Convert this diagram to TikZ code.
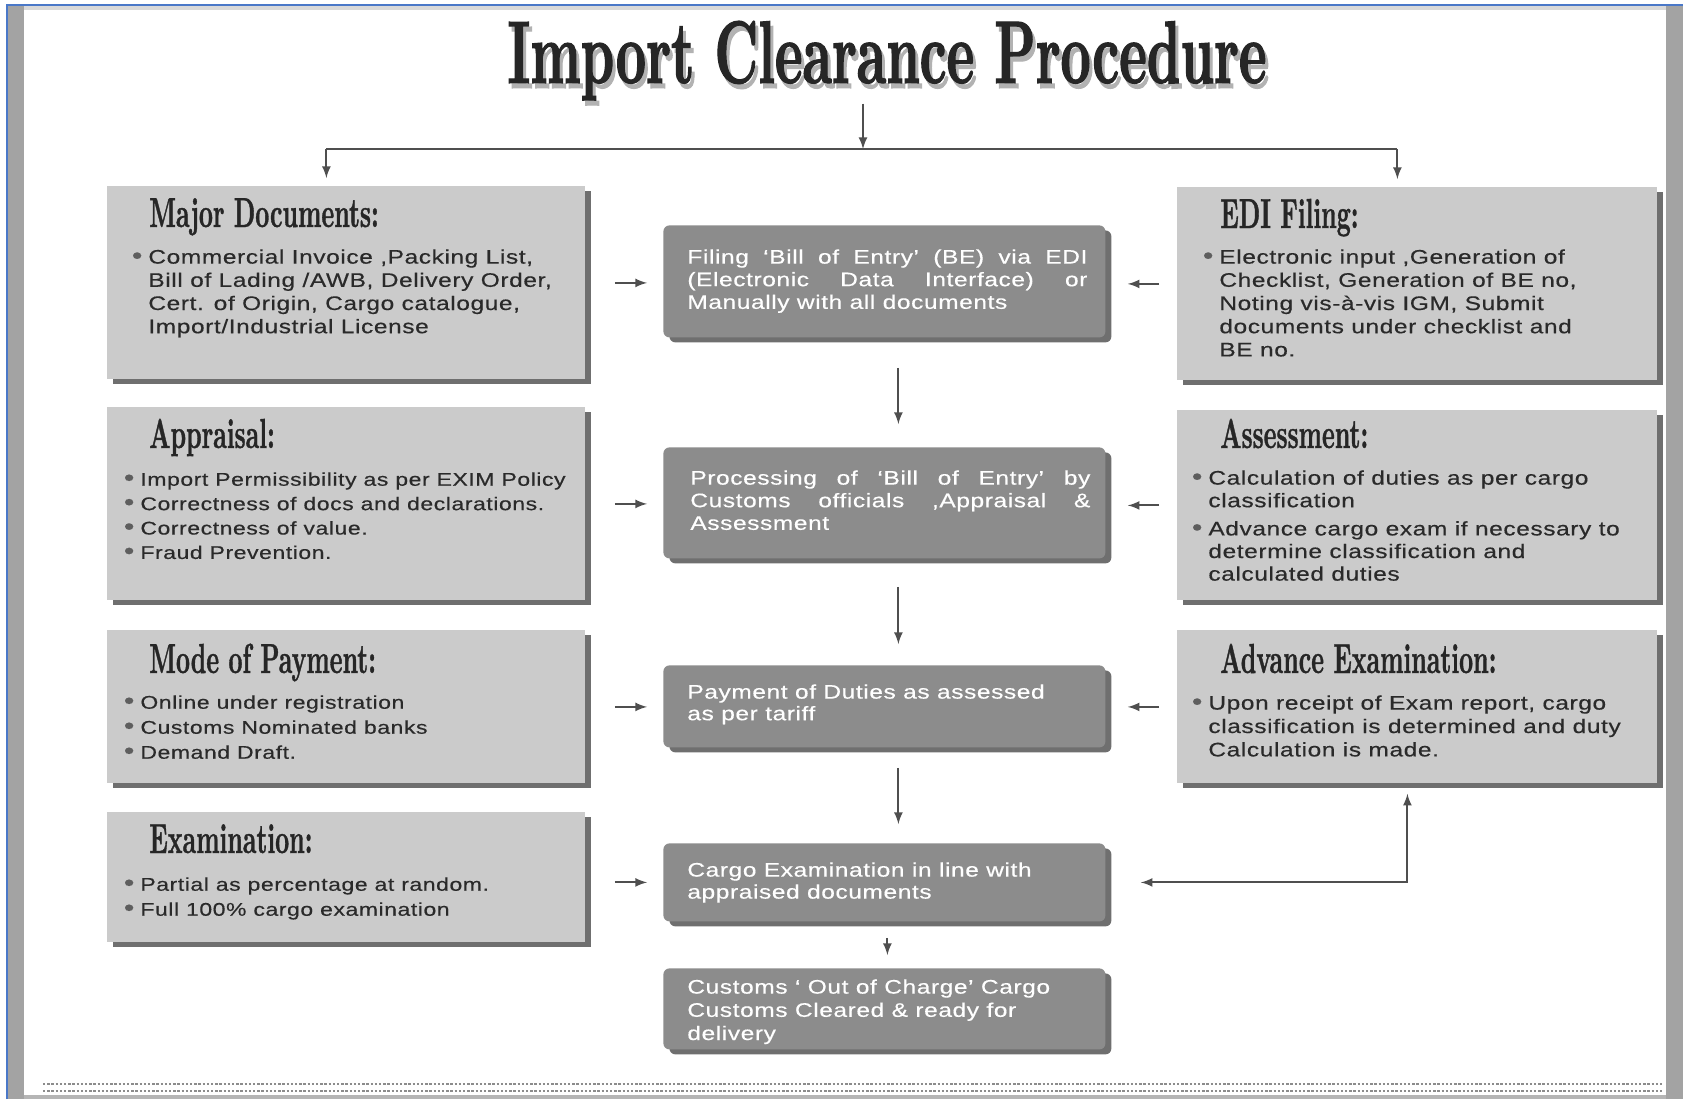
\documentclass[tikz,border=0pt]{standalone}
\usepackage{fontspec}
\usetikzlibrary{arrows,positioning,calc,shadows}

\newfontfamily\bodyfont{Liberation Sans}[FakeStretch=1.25,LetterSpace=3,FakeBold=0.4]
\newfontfamily\headfont{lmroman10-bold.otf}[FakeStretch=0.58,FakeBold=0.8]
\newfontfamily\titlefont{lmroman10-bold.otf}[FakeStretch=0.59,FakeBold=1.2]

\definecolor{boxgray}{HTML}{CBCBCB}
\definecolor{stepgray}{HTML}{8C8C8C}
\definecolor{arrowgray}{HTML}{4F4F4F}
\definecolor{headink}{HTML}{262626}
\definecolor{bodyink}{HTML}{2A2A2A}
\definecolor{bulletgray}{HTML}{5E5E5E}
\definecolor{framegray}{HTML}{A3A3A3}
\definecolor{frameblue}{HTML}{4A78C8}

\newcommand{\bul}{\llap{\textcolor{bulletgray}{\fontsize{12}{12}\selectfont\textbullet}\hspace{3pt}}}
\newcommand{\jline}[1]{\makebox[200pt][s]{#1}}

\begin{document}
\begin{tikzpicture}[x=0.5pt, y=-0.5pt,
		docbox/.style={
				fill=boxgray, anchor=north west, inner sep=0pt,
				drop shadow={shadow xshift=3pt, shadow yshift=-2.5pt, fill=black!75, opacity=.75}
			},
		stepbox/.style={
				fill=stepgray, rounded corners=3pt, anchor=north west, inner sep=0pt,
				minimum width=221pt,
				drop shadow={shadow xshift=3pt, shadow yshift=-2.5pt, fill=black!75, opacity=.75}
			},
		headtext/.style={anchor=base west, inner sep=0pt, text=headink,
				font=\headfont\fontsize{21}{24}\selectfont},
		titletext/.style={anchor=base, inner sep=0pt, text=headink,
				font=\titlefont\fontsize{44.5}{50}\selectfont},
		bodytext/.style={anchor=north west, inner sep=0pt, align=left, text=bodyink,
				font=\bodyfont\fontsize{9.8}{11.6}\selectfont},
		steptext/.style={bodytext, text=white},
		flow/.style={draw=arrowgray, line width=1pt, -latex},
		footdash/.style={draw=black!45, line width=1.2pt, dash pattern=on 1.2pt off 0.9pt}
	]

	% page frame
	\useasboundingbox (0,0) rectangle (1683,1099);
	\fill[white] (0,0) rectangle (1683,1099);
	\fill[framegray] (8,6) rectangle (24,1099);
	\fill[framegray] (1666,6) rectangle (1683,1099);
	\fill[black!15] (24,6) rectangle (1666,10);
	\fill[framegray!80] (24,1095) rectangle (1666,1099);
	\draw[frameblue, line width=1pt] (7,1099) -- (7,5) -- (1683,5);
	\draw[footdash] (43,1084) -- (1664,1084);
	\draw[footdash] (43,1091) -- (1664,1091);

	% title
	\node[titletext, text=black!30] (T0s) at (890,88) {Import Clearance Procedure};
	\node[titletext] (T0) at (887,83) {Import Clearance Procedure};

	% left column
	\node[docbox, minimum width=239pt, minimum height=96.5pt] (L1) at (107,186) {};
	\node[headtext] (L1a) at ([shift={(42,41)}]L1.north west) {Major Documents:};
	\node[bodytext] (L1b) at ([shift={(41,63)}]L1.north west)
	{\bul Commercial Invoice ,Packing List,\\Bill of Lading /AWB, Delivery Order,\\Cert. of Origin, Cargo catalogue,\\Import/Industrial License};

	\node[docbox, minimum width=239pt, minimum height=96.5pt] (L2) at (107,407) {};
	\node[headtext] (L2a) at ([shift={(42,41)}]L2.north west) {Appraisal:};
	\node[bodytext, font=\bodyfont\fontsize{9.2}{12.2}\selectfont] (L2b) at ([shift={(33,65)}]L2.north west)
	{\bul Import Permissibility as per EXIM Policy\\\bul Correctness of docs and declarations.\\\bul Correctness of value.\\\bul Fraud Prevention.};

	\node[docbox, minimum width=239pt, minimum height=76.5pt] (L3) at (107,630) {};
	\node[headtext] (L3a) at ([shift={(42,43)}]L3.north west) {Mode of Payment:};
	\node[bodytext, font=\bodyfont\fontsize{9.2}{12.5}\selectfont] (L3b) at ([shift={(33,65)}]L3.north west)
	{\bul Online under registration\\\bul Customs Nominated banks\\\bul Demand Draft.};

	\node[docbox, minimum width=239pt, minimum height=65pt] (L4) at (107,812) {};
	\node[headtext] (L4a) at ([shift={(42,41)}]L4.north west) {Examination:};
	\node[bodytext, font=\bodyfont\fontsize{9.2}{12.5}\selectfont] (L4b) at ([shift={(33,65)}]L4.north west)
	{\bul Partial as percentage at random.\\\bul Full 100\% cargo examination};

	% right column
	\node[docbox, minimum width=240pt, minimum height=96.5pt] (R1) at (1177,187) {};
	\node[headtext] (R1a) at ([shift={(43,41)}]R1.north west) {EDI Filing:};
	\node[bodytext] (R1b) at ([shift={(42,62)}]R1.north west)
	{\bul Electronic input ,Generation of\\Checklist, Generation of BE no,\\Noting vis-à-vis IGM, Submit\\documents under checklist and\\BE no.};

	\node[docbox, minimum width=240pt, minimum height=95pt] (R2) at (1177,410) {};
	\node[headtext] (R2a) at ([shift={(43,38)}]R2.north west) {Assessment:};
	\node[bodytext, font=\bodyfont\fontsize{9.8}{11.3}\selectfont] (R2b) at ([shift={(31,60)}]R2.north west)
	{\bul Calculation of duties as per cargo\\classification\\[2.8pt]\bul Advance cargo exam if necessary to\\determine classification and\\calculated duties};

	\node[docbox, minimum width=240pt, minimum height=76.5pt] (R3) at (1177,630) {};
	\node[headtext] (R3a) at ([shift={(43,43)}]R3.north west) {Advance Examination:};
	\node[bodytext, font=\bodyfont\fontsize{9.8}{11.7}\selectfont] (R3b) at ([shift={(31,65)}]R3.north west)
	{\bul Upon receipt of Exam report, cargo\\classification is determined and duty\\Calculation is made.};

	% middle steps
	\node[stepbox, minimum height=56pt] (C1) at (663,225) {};
	\node[steptext, font=\bodyfont\fontsize{9.8}{11.3}\selectfont] (C1b) at ([shift={(24,24)}]C1.north west)
	{\jline{Filing ‘Bill of Entry’ (BE) via EDI}\\\jline{(Electronic Data Interface) or}\\Manually with all documents};

	\node[stepbox, minimum height=55.5pt] (C2) at (663,447) {};
	\node[steptext, font=\bodyfont\fontsize{9.8}{11.3}\selectfont] (C2b) at ([shift={(27,23)}]C2.north west)
	{\jline{Processing of ‘Bill of Entry’ by}\\\jline{Customs officials ,Appraisal \&}\\Assessment};

	\node[stepbox, minimum height=41pt] (C3) at (663,665) {};
	\node[steptext, font=\bodyfont\fontsize{9.8}{10.8}\selectfont] (C3b) at ([shift={(24,19)}]C3.north west)
	{Payment of Duties as assessed\\as per tariff};

	\node[stepbox, minimum height=39pt] (C4) at (663,843) {};
	\node[steptext, font=\bodyfont\fontsize{9.8}{11}\selectfont] (C4b) at ([shift={(24,19)}]C4.north west)
	{Cargo Examination in line with\\appraised documents};

	\node[stepbox, minimum height=40.5pt] (C5) at (663,968) {};
	\node[steptext, font=\bodyfont\fontsize{9.8}{11.6}\selectfont] (C5b) at ([shift={(24,11)}]C5.north west)
	{Customs ‘ Out of Charge’ Cargo\\Customs Cleared \& ready for\\delivery};

	% connectors
	\coordinate (S) at (863,149);
	\draw[flow, shorten <=1.5pt] (S |- T0.south) -- (S);
	\draw[arrowgray, line width=1pt] ([xshift=-10pt]L1.north |- S) -- ([xshift=-10pt]R1.north |- S);
	\draw[flow, shorten >=4pt] ([xshift=-10pt]L1.north |- S) -- ([xshift=-10pt]L1.north);
	\draw[flow, shorten >=4pt] ([xshift=-10pt]R1.north |- S) -- ([xshift=-10pt]R1.north);

	\foreach \a/\b in {L1/C1,L2/C2,L3/C3}
	\draw[flow, shorten <=14.5pt, shorten >=8pt] (\a.east) -- (\a.east -| \b.west);
	\draw[flow, shorten <=14.5pt, shorten >=8pt] (L4.east |- C4.west) -- (C4.west);
	\foreach \a/\b in {R1/C1,R2/C2,R3/C3}
	\draw[flow, shorten <=9pt, shorten >=11pt] (\a.west) -- (\a.west -| \b.east);

	\draw[flow, shorten <=15pt, shorten >=11.5pt] ([xshift=7pt]C1.south) -- ([xshift=7pt]C2.north);
	\draw[flow, shorten <=14pt, shorten >=10.5pt] ([xshift=7pt]C2.south) -- ([xshift=7pt]C3.north);
	\draw[flow, shorten <=10pt, shorten >=9.5pt] ([xshift=7pt]C3.south) -- ([xshift=7pt]C4.north);
	\draw[flow, shorten <=8pt, shorten >=6.5pt] ([xshift=1.5pt]C4.south) -- ([xshift=1.5pt]C5.north);
	\draw[flow, latex-latex, shorten <=17.5pt, shorten >=5pt] (C4.east) -| ([xshift=-5pt]R3.south);
\end{tikzpicture}
\end{document}
